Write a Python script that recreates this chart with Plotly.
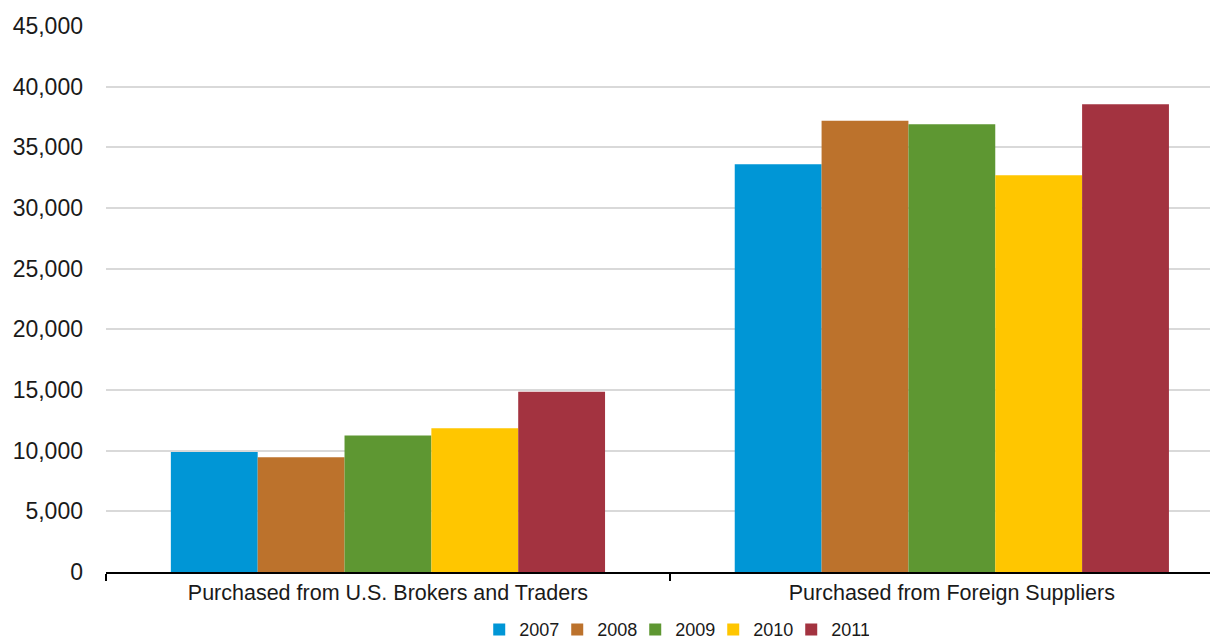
import plotly.graph_objects as go

categories = ["Purchased from U.S. Brokers and Traders", "Purchased from Foreign Suppliers"]
years = ["2007", "2008", "2009", "2010", "2011"]
values = {
    "2007": [9900, 33600],
    "2008": [9450, 37200],
    "2009": [11250, 36900],
    "2010": [11850, 32700],
    "2011": [14850, 38550],
}
colors = ["#0096D6", "#BC722C", "#5E9732", "#FFC600", "#A33340"]
y_ticks = list(range(0, 45001, 5000))

FONT = "Liberation Sans, Arial, sans-serif"
TEXT = "#1a1a1a"

fig = go.Figure()
for year, color in zip(years, colors):
    fig.add_trace(go.Bar(
        name=year,
        x=categories,
        y=values[year],
        marker=dict(color=color, line=dict(width=0)),
    ))

# page has an 8px body margin, margins below account for it
fig.update_layout(
    barmode="group",
    bargap=0.23,
    bargroupgap=0,
    width=1218,
    height=639,
    margin=dict(l=98, r=8, t=18, b=75),
    plot_bgcolor="white",
    paper_bgcolor="white",
    font=dict(family=FONT, color=TEXT, size=18),
    showlegend=True,
    legend=dict(
        orientation="h",
        x=0.511,
        xanchor="center",
        yref="container",
        y=0.027,
        yanchor="middle",
        font=dict(size=18, color=TEXT),
        itemwidth=30,
        entrywidth=33,
        entrywidthmode="pixels",
        tracegroupgap=0,
        bgcolor="rgba(0,0,0,0)",
    ),
)

fig.update_xaxes(
    range=[-0.5, 1.472],
    automargin=False,
    showline=True,
    linecolor="#000000",
    linewidth=1.5,
    ticks="outside",
    tickson="boundaries",
    ticklen=7,
    tickwidth=1.5,
    tickcolor="#000000",
    showgrid=False,
    tickfont=dict(size=21.5, color=TEXT),
)

fig.update_yaxes(
    range=[0, 45000],
    automargin=False,
    tickvals=y_ticks,
    ticktext=[f"{v:,}" for v in y_ticks],
    showgrid=True,
    gridcolor="#d9d9d9",
    gridwidth=1.5,
    zeroline=False,
    showline=False,
    ticks="",
    ticklabelstandoff=22,
    tickfont=dict(size=23, color=TEXT),
)

fig.write_html("out.html")
